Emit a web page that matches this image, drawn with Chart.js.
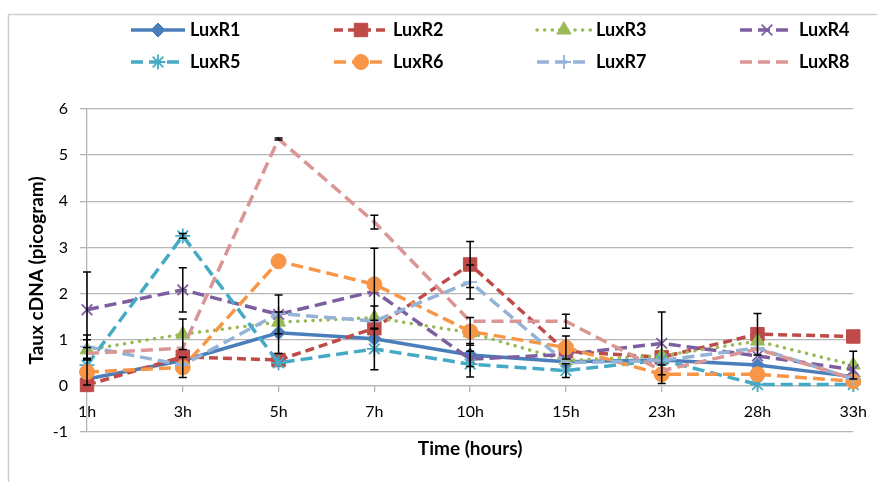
<!DOCTYPE html>
<html>
<head>
<meta charset="utf-8">
<script src="https://cdn.jsdelivr.net/npm/chart.js@4.4.1/dist/chart.umd.min.js"></script>
<style>
    body { margin: 0; background: #fff; }
    #wrap { width: 877px; height: 482px; position: relative; }
</style>
</head>
<body>
<div id="wrap"><canvas id="luxChart"></canvas></div>
<script>
// sampling times
const timePoints = ['1h', '3h', '5h', '7h', '10h', '15h', '23h', '28h', '33h'];

// Taux cDNA (picogram) per gene
const luxR1 = [0.15, 0.55, 1.15, 1.02, 0.67, 0.52, 0.56, 0.45, 0.2];
const luxR2 = [0.02, 0.63, 0.56, 1.25, 2.63, 0.75, 0.62, 1.12, 1.07];
const luxR3 = [0.78, 1.12, 1.38, 1.48, 1.15, 0.55, 0.65, 0.97, 0.45];
const luxR4 = [1.65, 2.08, 1.55, 2.05, 0.58, 0.68, 0.92, 0.65, 0.35];
const luxR5 = [0.45, 3.25, 0.5, 0.8, 0.47, 0.33, 0.56, 0.03, 0.03];
const luxR6 = [0.3, 0.4, 2.7, 2.2, 1.18, 0.83, 0.25, 0.25, 0.1];
const luxR7 = [0.85, 0.45, 1.57, 1.4, 2.25, 0.5, 0.55, 0.82, 0.15];
const luxR8 = [0.7, 0.82, 5.35, 3.55, 1.4, 1.4, 0.33, 0.8, 0.15];

// +/- error (null = no bar shown)
const errR1 = [null, null, 0.45, null, 0.25, null, null, null, null];
const errR2 = [null, null, null, null, 0.5, null, null, 0.45, null];
const errR3 = [0.22, 0.33, null, 0.25, null, null, null, null, 0.3];
const errR4 = [0.82, 0.48, 0.42, null, null, null, 0.68, null, null];
const errR5 = [null, 0.05, null, 0.45, 0.28, 0.15, null, null, null];
const errR6 = [0.28, 0.22, null, 0.78, 0.3, 0.25, 0.2, null, null];
const errR7 = [0.25, null, null, null, 0.37, null, null, null, null];
const errR8 = [null, null, 0.02, 0.15, null, 0.15, null, null, null];

const yTicks = [-1, 0, 1, 2, 3, 4, 5, 6];

const gridGray = '#b5b5b5';

function series(label, values, errors, color, dash, style, radius, order) {
    const open = style === 'crossRot' || style === 'star' || style === 'cross';
    return {
        label: label,
        data: values,
        errors: errors,
        borderColor: color,
        backgroundColor: color,
        borderWidth: 3.5,
        borderDash: dash,
        borderCapStyle: dash.length && dash[0] < 1 ? 'round' : 'butt',
        pointStyle: style,
        pointRadius: radius,
        pointHoverRadius: radius,
        pointBackgroundColor: color,
        pointBorderColor: color,
        pointBorderWidth: open ? 1.8 : 1,
        tension: 0,
        fill: false,
        order: order
    };
}

const datasets = [
    series('LuxR1', luxR1, errR1, '#4a7ebb', [], 'rectRot', 7, 8),
    series('LuxR2', luxR2, errR2, '#be4b48', [9, 5], 'rect', 9.5, 7),
    series('LuxR3', luxR3, errR3, '#98b954', [0.1, 7.5], 'triangle', 8, 6),
    series('LuxR4', luxR4, errR4, '#7d5fa0', [12, 6], 'crossRot', 7.5, 5),
    series('LuxR5', luxR5, errR5, '#46aac5', [12, 6], 'star', 7.5, 4),
    series('LuxR6', luxR6, errR6, '#f79646', [12, 6], 'circle', 7.5, 3),
    series('LuxR7', luxR7, errR7, '#95b3d7', [12, 6], 'cross', 7, 2),
    series('LuxR8', luxR8, errR8, '#d99694', [12, 6], 'circle', 0, 1)
];

// outer frame + legend + x title, drawn like the spreadsheet chart
const framePlugin = {
    id: 'frame',
    beforeDraw(chart) {
        const ctx = chart.ctx;
        ctx.save();
        ctx.fillStyle = '#fff';
        ctx.fillRect(0, 0, chart.width, chart.height);
        ctx.strokeStyle = '#cfcfcf';
        ctx.lineWidth = 1.5;
        ctx.strokeRect(8.5, 14.5, 1000, 1000);
        ctx.restore();
    },
    afterDraw(chart) {
        const ctx = chart.ctx;
        const area = chart.chartArea;
        chart.data.datasets.forEach((ds, i) => {
            const x0 = 131 + (i % 4) * 203;
            const y = 30 + Math.floor(i / 4) * 32;
            ctx.save();
            ctx.strokeStyle = ds.borderColor;
            ctx.lineWidth = ds.borderWidth;
            ctx.lineCap = ds.borderCapStyle;
            ctx.setLineDash(ds.borderDash);
            ctx.beginPath();
            ctx.moveTo(x0, y);
            ctx.lineTo(x0 + 54, y);
            ctx.stroke();
            ctx.setLineDash([]);
            if (ds.pointRadius > 0) {
                ctx.fillStyle = ds.pointBackgroundColor;
                ctx.strokeStyle = ds.pointBorderColor;
                ctx.lineWidth = ds.pointBorderWidth;
                Chart.helpers.drawPoint(ctx, {
                    pointStyle: ds.pointStyle,
                    radius: ds.pointRadius,
                    borderWidth: ds.pointBorderWidth,
                    rotation: 0
                }, x0 + 27, y);
            }
            ctx.fillStyle = '#000';
            ctx.font = 'bold 18px Lato';
            ctx.textBaseline = 'middle';
            ctx.textAlign = 'left';
            ctx.fillText(ds.label, x0 + 59, y);
            ctx.restore();
        });

        ctx.save();
        ctx.fillStyle = '#000';
        ctx.font = 'bold 19px Lato';
        ctx.textAlign = 'center';
        ctx.textBaseline = 'middle';
        ctx.fillText('Time (hours)', (area.left + area.right) / 2, 449);
        ctx.restore();
    }
};

const errorBarPlugin = {
    id: 'errorBars',
    afterDatasetsDraw(chart) {
        const ctx = chart.ctx;
        const xs = chart.scales.x;
        const ys = chart.scales.y;
        ctx.save();
        ctx.strokeStyle = '#000';
        ctx.lineWidth = 1.5;
        chart.data.datasets.forEach(ds => {
            ds.errors.forEach((e, i) => {
                if (e === null) return;
                const x = xs.getPixelForValue(i);
                const top = ys.getPixelForValue(ds.data[i] + e);
                const bottom = ys.getPixelForValue(ds.data[i] - e);
                ctx.beginPath();
                ctx.moveTo(x, top);
                ctx.lineTo(x, bottom);
                ctx.moveTo(x - 4, top);
                ctx.lineTo(x + 4, top);
                ctx.moveTo(x - 4, bottom);
                ctx.lineTo(x + 4, bottom);
                ctx.stroke();
            });
        });
        ctx.restore();
    }
};

const ctx = document.getElementById('luxChart').getContext('2d');

const luxChart = new Chart(ctx, {
    type: 'line',
    data: {
        labels: timePoints,
        datasets: datasets
    },
    options: {
        responsive: true,
        maintainAspectRatio: false,
        animation: false,
        layout: {
            padding: { top: 109, left: 5, right: 22, bottom: 50 }
        },
        plugins: {
            legend: { display: false },
            tooltip: { enabled: false }
        },
        scales: {
            x: {
                type: 'category',
                position: { y: 0 },
                offset: false,
                grid: {
                    drawOnChartArea: false,
                    drawTicks: true,
                    tickLength: 6,
                    color: gridGray,
                    lineWidth: 1.3
                },
                border: { display: true, color: gridGray, width: 1.3 },
                ticks: {
                    color: '#000',
                    padding: 10,
                    maxRotation: 0,
                    autoSkip: false,
                    font: { family: 'Lato', size: 16 }
                }
            },
            y: {
                min: -1,
                max: 6,
                afterBuildTicks(scale) {
                    scale.ticks = yTicks.map(v => ({ value: v }));
                },
                grid: {
                    color: gridGray,
                    lineWidth: 1.3,
                    tickLength: 7
                },
                border: { display: true, color: gridGray, width: 1.3 },
                ticks: {
                    color: '#000',
                    padding: 12,
                    font: { family: 'Lato', size: 16 }
                },
                title: {
                    display: true,
                    text: 'Taux cDNA (picogram)',
                    color: '#000',
                    padding: { top: 20, bottom: 0 },
                    font: { family: 'Lato', size: 19, weight: 'bold' }
                },
                afterFit(scale) {
                    scale.width = 82;
                }
            }
        }
    },
    plugins: [framePlugin, errorBarPlugin]
});
</script>
</body>
</html>
